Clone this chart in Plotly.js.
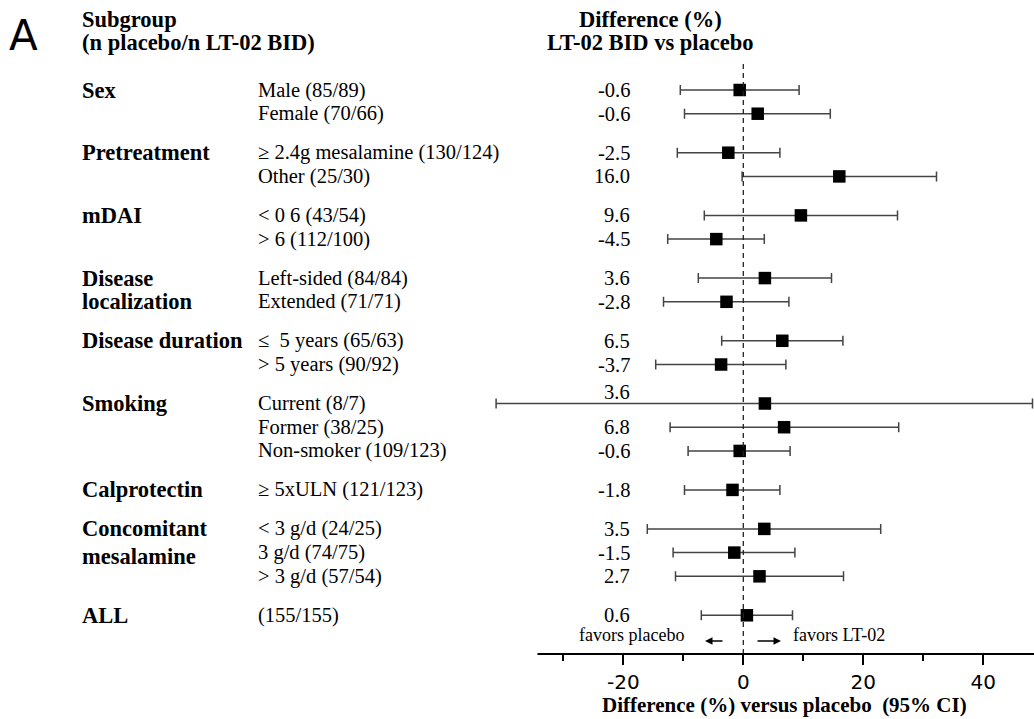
<!DOCTYPE html>
<html>
<head>
<meta charset="utf-8">
<script src="https://cdn.plot.ly/plotly-3.0.1.min.js"></script>
<style>html,body{margin:0;padding:0;background:#fff;}#chart{width:1034px;height:719px;}</style>
</head>
<body>
<div id="chart"></div>
<script>
// ---------------- data ----------------
const groupLabels = [["Sex"], ["Pretreatment"], ["mDAI"], ["Disease", "localization"], ["Disease duration"], ["Smoking"], ["Calprotectin"], ["Concomitant", "mesalamine"], ["ALL"]];
const groupSizes = [2, 2, 2, 2, 2, 3, 1, 3, 1];
const subgroups = ["Male (85/89)", "Female (70/66)", "\u2265 2.4g mesalamine (130/124)", "Other (25/30)",
  "< 0 6 (43/54)", "> 6 (112/100)", "Left-sided (84/84)", "Extended (71/71)",
  "\u2264\u00a0 5 years (65/63)", "> 5 years (90/92)", "Current (8/7)", "Former (38/25)",
  "Non-smoker (109/123)", "\u2265 5xULN (121/123)", "< 3 g/d (24/25)", "3 g/d (74/75)",
  "> 3 g/d (57/54)", "(155/155)"];
const diffLabels = ["-0.6", "-0.6", "-2.5", "16.0", "9.6", "-4.5", "3.6", "-2.8", "6.5", "-3.7", "3.6", "6.8", "-0.6", "-1.8", "3.5", "-1.5", "2.7", "0.6"];
const estimates = [-0.6, 2.4, -2.5, 16.0, 9.6, -4.5, 3.6, -2.8, 6.5, -3.7, 3.6, 6.8, -0.6, -1.8, 3.5, -1.5, 2.7, 0.6];
const ciLow = [-10.5, -9.8, -11.0, -0.2, -6.5, -12.6, -7.5, -13.3, -3.6, -14.6, -41.2, -12.2, -9.2, -9.8, -16.0, -11.7, -11.3, -7.0];
const ciHigh = [9.3, 14.5, 6.1, 32.2, 25.7, 3.5, 14.7, 7.6, 16.6, 7.1, 48.2, 25.9, 7.8, 6.1, 22.9, 8.6, 16.7, 8.2];
const xTickVals = [-20, 0, 20, 40];
const xTickText = ["-20", "0", "20", "40"];
const xMinorTicks = [-30, -10, 10, 30];

// ---------------- layout helpers ----------------
const W = 1034, H = 719;
const M = {l: 490, r: 0, t: 62, b: 65};
const PW = W - M.l - M.r, PH = H - M.t - M.b;
const px = v => (v - M.l) / PW;          // pixel x -> paper x
const py = v => (H - M.b - v) / PH;      // pixel y -> paper y
const GAP = 1.644;

// row positions derived from group structure
const rowPos = [];
const groupStart = [];
let pos = 0;
groupSizes.forEach((n, g) => {
  if (g > 0) pos += GAP - 1;
  groupStart.push(rowPos.length);
  for (let i = 0; i < n; i++) { rowPos.push(pos); pos += 1; }
});
const lastPos = rowPos[rowPos.length - 1];

const serif = "Liberation Serif, Times New Roman, serif";
const BOLD = 22.5, REG = 20.5;
const ann = [];

// header
ann.push({xref: 'paper', yref: 'paper', x: px(7), y: py(35), xanchor: 'left', yanchor: 'middle', showarrow: false,
  text: 'A', font: {family: 'DejaVu Sans, sans-serif', size: 42, color: '#000'}});
ann.push({xref: 'paper', yref: 'paper', x: px(80), y: py(20), xanchor: 'left', yanchor: 'middle', showarrow: false,
  text: '<b>Subgroup</b>', font: {family: serif, size: BOLD, color: '#000'}});
ann.push({xref: 'paper', yref: 'paper', x: px(80), y: py(42), xanchor: 'left', yanchor: 'middle', showarrow: false,
  text: '<b>(n placebo/n LT-02 BID)</b>', font: {family: serif, size: BOLD, color: '#000'}});
ann.push({xref: 'paper', yref: 'paper', x: px(650), y: py(20), xanchor: 'center', yanchor: 'middle', showarrow: false,
  text: '<b>Difference (%)</b>', font: {family: serif, size: BOLD, color: '#000'}});
ann.push({xref: 'paper', yref: 'paper', x: px(650), y: py(42), xanchor: 'center', yanchor: 'middle', showarrow: false,
  text: '<b>LT-02 BID vs placebo</b>', font: {family: serif, size: BOLD, color: '#000'}});

// group labels
groupLabels.forEach((lines, g) => {
  const r = groupStart[g];
  ann.push({xref: 'paper', yref: 'y', x: px(80), y: rowPos[r], xanchor: 'left', yanchor: 'middle', showarrow: false,
    text: '<b>' + lines[0] + '</b>', font: {family: serif, size: BOLD, color: '#000'}});
  if (lines.length > 1) {
    const r2 = r + 1;
    ann.push({xref: 'paper', yref: 'y', x: px(80), y: rowPos[r2], yshift: groupSizes[g] > 2 ? -4 : 0,
      xanchor: 'left', yanchor: 'middle', showarrow: false,
      text: '<b>' + lines[1] + '</b>', font: {family: serif, size: BOLD, color: '#000'}});
  }
});

// subgroup labels & value labels
subgroups.forEach((s, i) => {
  ann.push({xref: 'paper', yref: 'y', x: px(256), y: rowPos[i], xanchor: 'left', yanchor: 'middle', showarrow: false,
    text: s, font: {family: serif, size: REG, color: '#000'}});
  const overlap = (ciLow[i] < -24);
  ann.push({xref: 'paper', yref: 'y', x: px(632), y: rowPos[i], yshift: overlap ? 11 : 0,
    xanchor: 'right', yanchor: 'middle', showarrow: false,
    text: diffLabels[i], font: {family: serif, size: REG, color: '#000'}});
});

// favors labels and arrows
ann.push({xref: 'paper', yref: 'paper', x: px(686), y: py(635), xanchor: 'right', yanchor: 'middle', showarrow: false,
  text: 'favors placebo', font: {family: serif, size: 18, color: '#000'}});
ann.push({xref: 'paper', yref: 'paper', x: px(791), y: py(635), xanchor: 'left', yanchor: 'middle', showarrow: false,
  text: 'favors LT-02', font: {family: serif, size: 18, color: '#000'}});
ann.push({xref: 'paper', yref: 'paper', x: px(705), y: py(641), ax: 19, ay: 0, showarrow: true, text: '',
  arrowhead: 2, arrowsize: 1, arrowwidth: 1.5, arrowcolor: '#000', standoff: 0, startstandoff: 0});
ann.push({xref: 'paper', yref: 'paper', x: px(781), y: py(641), ax: -25, ay: 0, showarrow: true, text: '',
  arrowhead: 2, arrowsize: 1, arrowwidth: 1.5, arrowcolor: '#000', standoff: 0, startstandoff: 0});

// axis title
ann.push({xref: 'paper', yref: 'paper', x: px(784), y: py(705), xanchor: 'center', yanchor: 'middle', showarrow: false,
  text: '<b>Difference (%) versus placebo\u00a0 (95% CI)</b>', font: {family: serif, size: 21, color: '#000'}});

const xRange = [(M.l - 743.3) / 6, (W - M.r - 743.3) / 6];
const yUnit = (615.3 - 90) / lastPos;
const yRange = [lastPos + (H - M.b - 615.3) / yUnit, -(90 - M.t) / yUnit];

const trace = {
  type: 'scatter', mode: 'markers',
  x: estimates, y: rowPos,
  marker: {symbol: 'square', size: 12.5, color: '#000'},
  error_x: {type: 'data', symmetric: false,
    array: ciHigh.map((h, i) => h - estimates[i]),
    arrayminus: ciLow.map((l, i) => estimates[i] - l),
    color: '#444', thickness: 1.5, width: 5},
  cliponaxis: false, hoverinfo: 'skip'
};

const layout = {
  width: W, height: H, margin: M,
  paper_bgcolor: '#fff', plot_bgcolor: 'rgba(0,0,0,0)',
  showlegend: false,
  xaxis: {range: xRange, showgrid: false, zeroline: false, showline: false,
    tickmode: 'array', tickvals: xTickVals, ticktext: xTickText,
    ticks: 'outside', ticklen: 10, tickwidth: 2, tickcolor: '#000',
    tickfont: {family: 'DejaVu Sans, sans-serif', size: 20, color: '#000'},
    minor: {tickmode: 'array', tickvals: xMinorTicks, ticks: 'outside', ticklen: 6, tickwidth: 2, tickcolor: '#000', showgrid: false},
    fixedrange: true},
  yaxis: {range: yRange, visible: false, fixedrange: true},
  shapes: [
    {type: 'line', xref: 'x', yref: 'paper', x0: 0, x1: 0, y0: 0, y1: 1,
      line: {color: '#222', width: 1.3, dash: '5px,4px'}},
    {type: 'line', xref: 'x', yref: 'paper', x0: -34.3, x1: xRange[1], y0: 0, y1: 0,
      line: {color: '#000', width: 2}}
  ],
  annotations: ann
};

Plotly.newPlot('chart', [trace], layout, {staticPlot: true});
</script>
</body>
</html>
